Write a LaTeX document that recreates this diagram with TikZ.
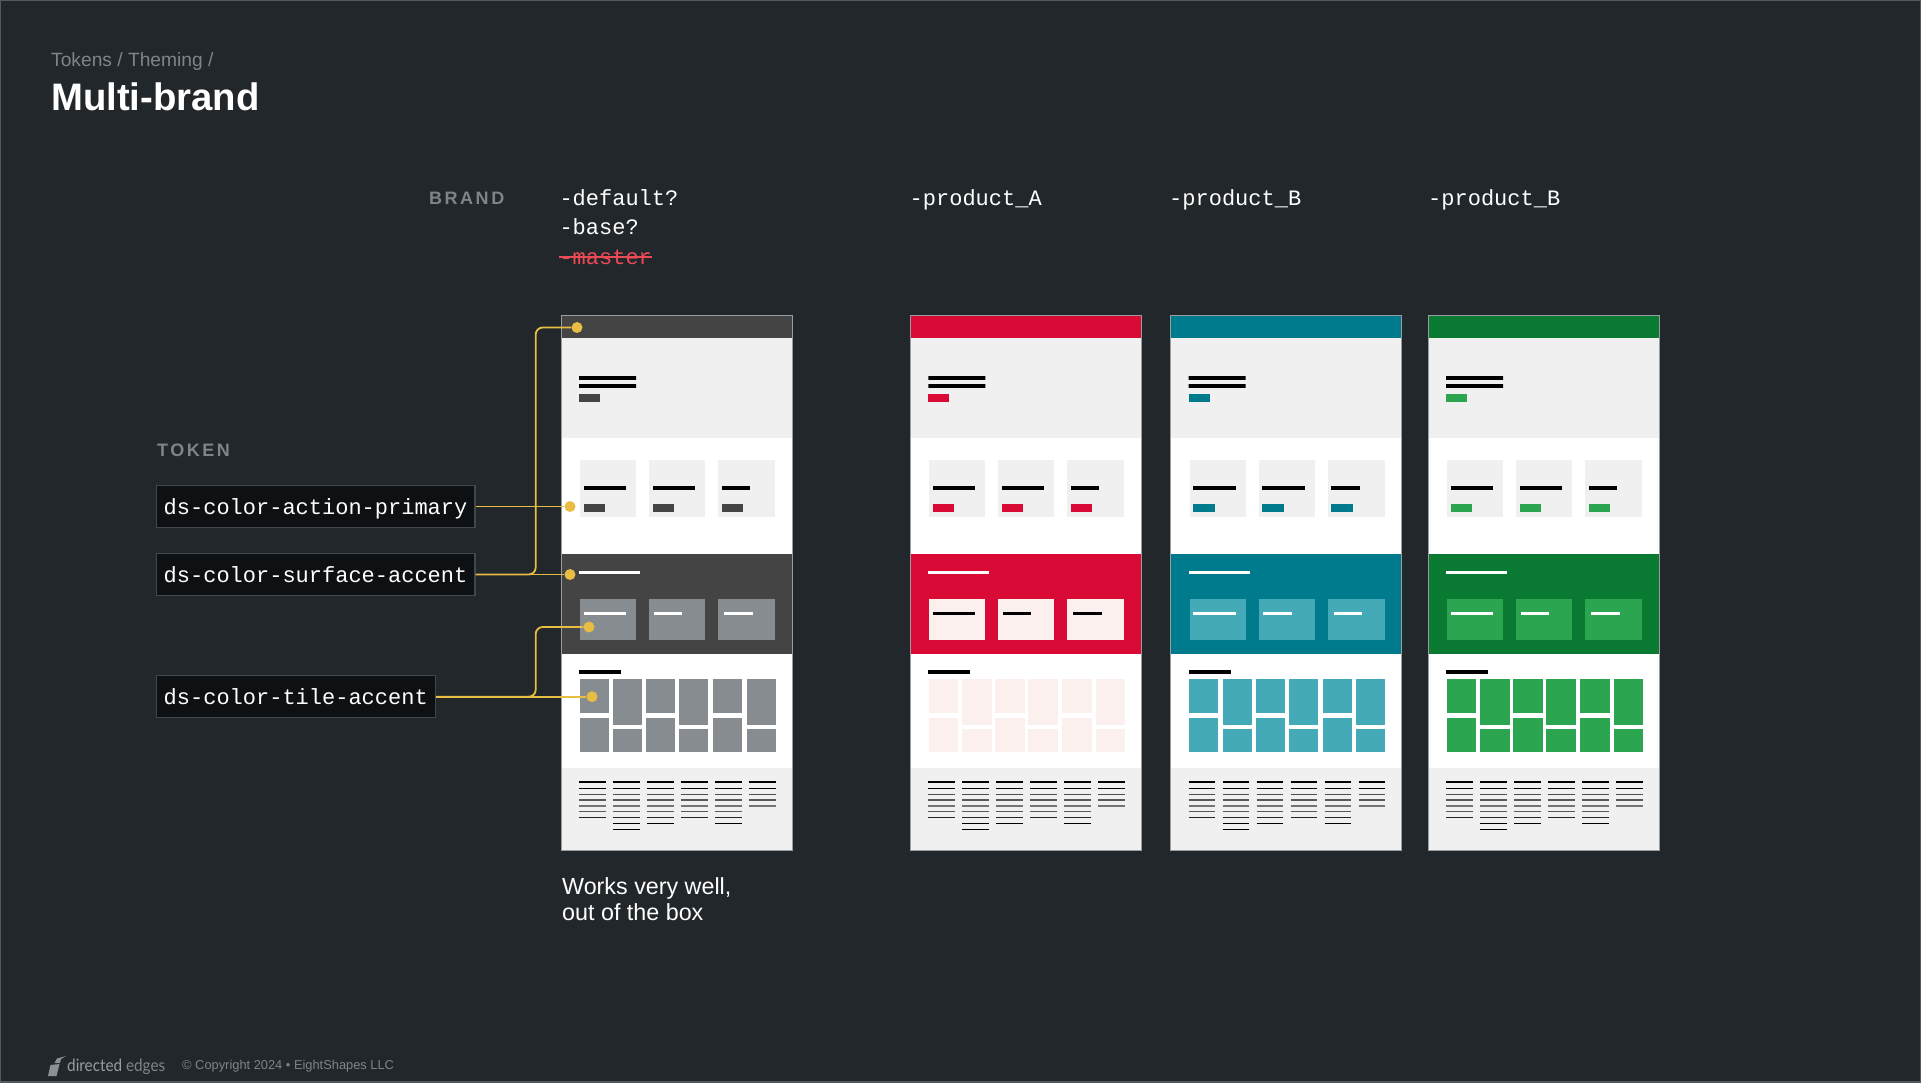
\documentclass[tikz,border=0pt]{standalone}
\usepackage{fontspec}
\setmainfont{Liberation Sans}
\newfontfamily\monofont{Liberation Mono}
\newfontfamily\spacedfont[LetterSpace=14]{Liberation Sans}
\newfontfamily\logofont[FakeStretch=0.9]{Lato}
\definecolor{slide}{HTML}{22272B}
\definecolor{edgeline}{HTML}{55595C}
\definecolor{muted}{HTML}{7F8487}
\definecolor{wire}{HTML}{E8BD44}
\definecolor{tokenfill}{HTML}{0D1114}
\definecolor{tokenedge}{HTML}{43474B}
\definecolor{struck}{HTML}{EC4A55}
\definecolor{paper}{HTML}{F0F0F1}
\definecolor{rim}{HTML}{9A9DA0}
\definecolor{baseA}{HTML}{444444}
\definecolor{baseB}{HTML}{868C8F}
\definecolor{redA}{HTML}{DA0A36}
\definecolor{redB}{HTML}{FCF0EE}
\definecolor{tealA}{HTML}{007B8E}
\definecolor{tealB}{HTML}{45AAB8}
\definecolor{greenA}{HTML}{0A7A33}
\definecolor{greenB}{HTML}{2BA550}
\tikzset{
 brandtext/.style={text=white,inner sep=0pt,anchor=west,text height=16pt,text depth=1pt,font=\monofont\fontsize{22}{22}\selectfont},
 headtext/.style={text=muted,inner sep=0pt,anchor=west,font=\spacedfont\bfseries\fontsize{18}{18}\selectfont},
 tokenbox/.style={fill=tokenfill,draw=tokenedge,line width=1.4pt,anchor=west,inner xsep=7.5pt,inner ysep=0pt,minimum height=42pt,text=white,text height=16pt,text depth=1pt,font=\monofont\fontsize{22}{22}\selectfont},
 pin/.style={circle,fill=wire,inner sep=0pt,minimum size=11pt},
 link/.style={draw=wire,line width=1.8pt},
}
% #1 shift, #2 band colour, #3 button, #4 boxes in band, #5 lines in boxes, #6 tiles
\newcommand{\brandpage}[6]{
 \begin{scope}[shift={(#1,0)}]
  \fill[#2] (561,315) rectangle (792,338);
  \fill[paper] (561,338) rectangle (792,438);
  \fill[white] (561,438) rectangle (792,553.5);
  \fill[#2] (561,553.5) rectangle (792,654);
  \fill[white] (561,654) rectangle (792,768);
  \fill[paper] (561,768) rectangle (792,850);
  % hero
  \fill[black] (579,376.2) rectangle (636,379.8) (579,384.2) rectangle (636,387.8);
  \fill[#3] (579,394) rectangle (600,401.5);
  \fill[white] (579,570.5) rectangle (640,574);
  \fill[black] (579,669.5) rectangle (621,673.5);
  % three small cards
  \foreach \bx/\bw/\lw in {580/56/42.5,649/56/42.5,718/57/28.5} {
   \fill[paper] (\bx,460) rectangle ++(\bw,57);
   \fill[black] (\bx+3.5,486.2) rectangle ++(\lw,3.6);
   \fill[#3] (\bx+3.5,504) rectangle ++(21.5,7.5);
   \fill[#4] (\bx,598.5) rectangle ++(\bw,41);
  }
  \foreach \bx/\lw in {583.5/42.5,653.5/28.5,724/28.5} {
   \fill[#5] (\bx,611.7) rectangle ++(\lw,3.6);
  }
  % tiles
  \foreach \tx/\ta/\tb in {579.5/713/718,613/725/729,646/713/718,679/725/729,713/713/718,746.5/725/729} {
   \fill[#6] (\tx,679) rectangle (\tx+29.3,\ta);
   \fill[#6] (\tx,\tb) rectangle (\tx+29.3,752);
  }
  % footer
  \foreach \fx/\fn in {579/7,613/9,647/8,681/7,715/8,749/5} {
   \foreach \ly/\lw/\lc [count=\k] in {782/2/100,788.3/1.2/100,794.3/1.4/70,800/1.5/65,806/1.8/55,811.7/1.5/65,817.7/1.2/85,823.3/1.2/100,829.3/1.2/100} {
    \ifnum\k>\fn\else
     \draw[line width=\lw pt,black!\lc] (\fx,\ly) -- ++(26.6,0);
    \fi
   }
  }
  \draw[line width=1pt,rim] (561,315) rectangle (792,850);
 \end{scope}
}

\begin{document}
\begin{tikzpicture}[x=1pt,y=-1pt]
 \useasboundingbox (0,0) rectangle (1921,1082);
 \fill[slide] (0,0) rectangle (1921,1082);
 \draw[edgeline,line width=1.5pt] (0,0) rectangle (1921,1082);

 \node[anchor=west,inner sep=0pt,text=muted,font=\fontsize{19.2}{19.2}\selectfont] (crumb) at (51,62) {Tokens / Theming /};
 \node[anchor=west,inner sep=0pt,text=white,font=\bfseries\fontsize{38.3}{38.3}\selectfont] (title) at (51,97) {Multi-brand};

 \node[headtext] (brandhead) at (429,198) {BRAND};
 \node[headtext] (tokenhead) at (157,450) {TOKEN};

 \node[brandtext] (default) at (559.3,198) {-default?};
 \node[brandtext] (base) at (559.3,227) {-base?};
 \node[brandtext,text=struck] (master) at (559.3,257) {-master};
 \draw[struck,line width=1.2pt] (master.west) -- (master.east);
 \node[brandtext] (productA) at (909.5,198) {-product\_A};
 \node[brandtext] (productB) at (1169,198) {-product\_B};
 \node[brandtext] (productC) at (1428,198) {-product\_B};

 \brandpage{0}{baseA}{baseA}{baseB}{white}{baseB}
 \brandpage{349.4}{redA}{redA}{redB}{black}{redB}
 \brandpage{609.6}{tealA}{tealA}{tealB}{white}{tealB}
 \brandpage{867.2}{greenA}{greenB}{greenB}{white}{greenB}

 \node[tokenbox] (action) at (155.5,506.5) {ds-color-action-primary};
 \node[tokenbox] (surface) at (155.5,574.5) {ds-color-surface-accent};
 \node[tokenbox] (tile) at (155.5,696.7) {ds-color-tile-accent};

 \node[pin] (pinheader) at (577,327.5) {};
 \node[pin] (pinaction) at (570,506.5) {};
 \node[pin] (pinsurface) at (570,574.5) {};
 \node[pin] (pinbox) at (589,627) {};
 \node[pin] (pintile) at (592,696.7) {};
 \coordinate (elbowtop) at (535.7,327.5);
 \coordinate (elbowbox) at (535.7,627);

 \draw[link] (action) -- (pinaction);
 \draw[link] (surface) -- (pinsurface);
 \draw[link] (tile) -- (pintile);
 \draw[link,rounded corners=7pt] (surface.east) -| (elbowtop) -- (pinheader);
 \draw[link,rounded corners=7pt] (tile.east) -| (elbowbox) -- (pinbox);

 \node[anchor=west,inner sep=0pt,align=left,text=white,font=\fontsize{23.3}{26}\selectfont] (verdict) at (562,899) {Works very well,\\out of the box};

 \fill[muted!90!white] (48,1076) -- (50.5,1065) -- (59.5,1064) -- (56.5,1076) -- cycle;
 \fill[muted!90!white] (54.5,1063) -- (57,1058.5) -- (66,1056) -- (61,1059) -- (60,1063) -- cycle;
 \node[anchor=west,inner sep=0pt,text=muted,font=\logofont\fontsize{17}{17}\selectfont] (logo) at (67,1067) {\textcolor{muted!80!white}{directed} edges};
 \node[anchor=west,inner sep=0pt,text=muted,font=\fontsize{12.85}{12.85}\selectfont] (copyright) at (182,1066) {© Copyright 2024 • EightShapes LLC};
\end{tikzpicture}
\end{document}
